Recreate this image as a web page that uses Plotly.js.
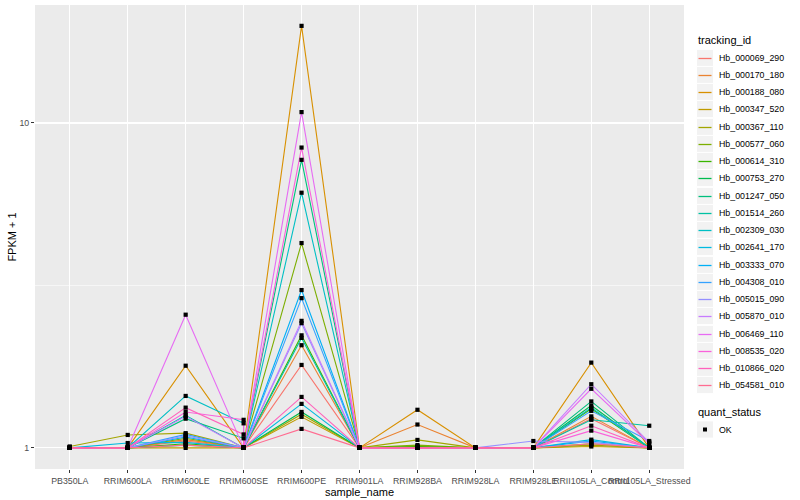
<!DOCTYPE html>
<html>
<head>
<meta charset="utf-8">
<script src="https://cdn.plot.ly/plotly-3.0.1.min.js"></script>
<style>html,body{margin:0;padding:0;background:#fff;}#chart{width:800px;height:500px;}</style>
</head>
<body>
<div id="chart"></div>
<script>
// ---- data ----
const categories = ["PB350LA","RRIM600LA","RRIM600LE","RRIM600SE","RRIM600PE","RRIM901LA","RRIM928BA","RRIM928LA","RRIM928LE","RRII105LA_Control","RRII105LA_Stressed"];
const trackingIds = ["Hb_000069_290","Hb_000170_180","Hb_000188_080","Hb_000347_520","Hb_000367_110","Hb_000577_060","Hb_000614_310","Hb_000753_270","Hb_001247_050","Hb_001514_260","Hb_002309_030","Hb_002641_170","Hb_003333_070","Hb_004308_010","Hb_005015_090","Hb_005870_010","Hb_006469_110","Hb_008535_020","Hb_010866_020","Hb_054581_010"];
// FPKM + 1 per sample (an inner pair = two readings for the same sample)
const hb000069_290 = [1, 1, 1.05, 1, 1.80, 1, 1.01, 1, 1, 1.23, 1];
const hb000170_180 = [1, 1, 1.06, 1, 2.07, 1, 1.18, 1, 1, 1.25, 1];
const hb000188_080 = [1, 1, 1.79, 1, 19.9, 1, 1.31, 1, 1, 1.83, 1];
const hb000347_520 = [1, 1, 1.00, 1, 1.246, 1, 1, 1, 1, 1.01, 1];
const hb000367_110 = [1.01, 1.096, 1.11, 1, 1.27, 1, 1.058, 1, 1, 1.02, 1];
const hb000577_060 = [1, 1, 1.07, 1, 4.27, 1, 1.02, 1, 1, 1.03, 1];
const hb000614_310 = [1, 1, 1.03, 1, 2.22, 1, 1.01, 1, 1, 1.32, 1];
const hb000753_270 = [1, 1, 1.02, 1, 1.29, 1, 1, 1, 1, 1.35, 1];
const hb001247_050 = [1, 1, 1.23, [1.07, 1], 7.7, 1, 1, 1, 1, 1.39, 1];
const hb001514_260 = [1, 1, 1.26, 1, 2.18, 1, 1, 1, 1, 1.22, 1.17];
const hb002309_030 = [1, 1, 1.445, [1.19, 1], 6.1, 1, 1, 1, 1, 1.33, 1];
const hb002641_170 = [1, 1.035, 1.04, 1, 1.366, 1, 1, 1, 1, 1.06, 1];
const hb003333_070 = [1, 1, 1.08, 1, 3.06, 1, 1, 1, 1, 1.05, 1];
const hb004308_010 = [1, 1, 1.10, 1, 2.89, 1, 1, 1, 1, 1.30, 1.05];
const hb005015_090 = [1, 1, 1.09, 1, 2.42, 1, 1, 1, 1.05, 1.04, 1];
const hb005870_010 = [1, 1, 1.25, 1, 2.46, 1, 1, 1, 1, 1.57, 1.04];
const hb006469_110 = [1, 1, 2.57, 1, 10.8, 1, 1, 1, 1, 1.52, 1.03];
const hb008535_020 = [1, 1, 1.29, [1.22, 1], 8.4, 1, 1, 1, 1, 1.13, 1];
const hb010866_020 = [1, 1, 1.33, [1.10, 1], 1.435, 1, 1, 1, 1, 1.17, 1];
const hb054581_010 = [1, 1, 1.02, 1, 1.144, 1, 1, 1, 1, 1.03, 1];
const quantStatus = ["OK"];

const seriesValues = [hb000069_290,hb000170_180,hb000188_080,hb000347_520,hb000367_110,hb000577_060,hb000614_310,hb000753_270,hb001247_050,hb001514_260,hb002309_030,hb002641_170,hb003333_070,hb004308_010,hb005015_090,hb005870_010,hb006469_110,hb008535_020,hb010866_020,hb054581_010];

// ggplot2 hue palette (20)
const palette = ["#F8766D","#EA8331","#D89000","#C09B00","#A3A500","#7CAE00","#39B600","#00BB4E","#00BF7D","#00C1A3","#00BFC4","#00BAE0","#00B0F6","#35A2FF","#9590FF","#C77CFF","#E76BF3","#FA62DB","#FF62BC","#FF6C91"];

const FONT = "Liberation Sans, Arial, Helvetica, sans-serif";

function flatten(vals) {
  const x = [], y = [];
  vals.forEach((v, i) => {
    const arr = Array.isArray(v) ? v : [v];
    arr.forEach(a => { x.push(categories[i]); y.push(a); });
  });
  return {x, y};
}

const traces = [];
const px = [], py = [];
seriesValues.forEach((vals, k) => {
  const f = flatten(vals);
  traces.push({type: "scatter", mode: "lines", name: trackingIds[k], x: f.x, y: f.y,
    line: {color: palette[k], width: 1.1}, showlegend: false, hoverinfo: "x+y+name"});
  f.x.forEach((xx, j) => { px.push(xx); py.push(f.y[j]); });
});
traces.push({type: "scatter", mode: "markers", name: quantStatus[0], x: px, y: py,
  marker: {color: "#000000", size: 4.2, symbol: "square"}, showlegend: false});

// ---- layout geometry (pixels) ----
const L = 35, R = 684, T = 5, B = 469;
const pxX = p => (p - L) / (R - L);
const pxY = p => (B - p) / (B - T);

const shapes = [], annotations = [];
// legend: tracking_id
annotations.push({xref: "paper", yref: "paper", x: pxX(696), y: pxY(40), xanchor: "left", yanchor: "middle",
  text: "tracking_id", showarrow: false, font: {family: FONT, size: 11, color: "#000"}});
const step = 17.25, y0 = 57.5;
trackingIds.forEach((id, i) => {
  const cy = Math.round(y0 + step * i);
  shapes.push({type: "rect", xref: "paper", yref: "paper", x0: pxX(696.5), x1: pxX(713.5),
    y0: pxY(cy - step / 2), y1: pxY(cy + step / 2), fillcolor: "#F2F2F2", line: {color: "#FFFFFF", width: 1}});
  shapes.push({type: "line", xref: "paper", yref: "paper", x0: pxX(698.5), x1: pxX(711.5),
    y0: pxY(cy + 0.5), y1: pxY(cy + 0.5), line: {color: palette[i], width: 1.3}});
  annotations.push({xref: "paper", yref: "paper", x: pxX(716.5), y: pxY(cy), xanchor: "left", yanchor: "middle",
    text: id, showarrow: false, font: {family: FONT, size: 8.8, color: "#000"}});
});
// legend: quant_status
annotations.push({xref: "paper", yref: "paper", x: pxX(696), y: pxY(412), xanchor: "left", yanchor: "middle",
  text: "quant_status", showarrow: false, font: {family: FONT, size: 11, color: "#000"}});
const okY = 429.5;
shapes.push({type: "rect", xref: "paper", yref: "paper", x0: pxX(696.5), x1: pxX(713.5),
  y0: pxY(okY - step / 2), y1: pxY(okY + step / 2), fillcolor: "#F2F2F2", line: {color: "#FFFFFF", width: 1}});
shapes.push({type: "rect", xref: "paper", yref: "paper", x0: pxX(703), x1: pxX(707),
  y0: pxY(okY - 2), y1: pxY(okY + 2), fillcolor: "#000", line: {width: 0}});
annotations.push({xref: "paper", yref: "paper", x: pxX(716.5), y: pxY(okY), xanchor: "left", yanchor: "middle",
  text: quantStatus[0], showarrow: false, font: {family: FONT, size: 8.8, color: "#000"}});

const layout = {
  width: 800, height: 500, autosize: false,
  margin: {l: L, r: 800 - R, t: T, b: 500 - B, pad: 0},
  paper_bgcolor: "#FFFFFF", plot_bgcolor: "#EBEBEB",
  font: {family: FONT},
  showlegend: false,
  xaxis: {type: "category", categoryorder: "array", categoryarray: categories,
    range: [-0.6, categories.length - 0.4],
    showgrid: true, gridcolor: "#FFFFFF", gridwidth: 1.1, zeroline: false, showline: false,
    ticks: "outside", ticklen: 3, tickwidth: 1, tickcolor: "#333333", tickangle: 0,
    tickfont: {family: FONT, size: 8.8, color: "#4D4D4D"},
    title: {text: "sample_name", font: {family: FONT, size: 11, color: "#000"}, standoff: 0}},
  yaxis: {type: "log", range: [Math.log10(0.861), Math.log10(23.07)],
    tickvals: [1, 10], ticktext: ["1", "10"],
    showgrid: true, gridcolor: "#FFFFFF", gridwidth: 1.1, zeroline: false, showline: false,
    ticks: "outside", ticklen: 3, tickwidth: 1, tickcolor: "#333333",
    tickfont: {family: FONT, size: 8.8, color: "#4D4D4D"},
    minor: {tickvals: [Math.sqrt(10)], showgrid: true, gridcolor: "#FFFFFF", gridwidth: 0.55, ticks: ""},
    title: {text: "FPKM + 1", font: {family: FONT, size: 11, color: "#000"}, standoff: 0}},
  shapes: shapes, annotations: annotations
};

Plotly.newPlot("chart", traces, layout, {staticPlot: true, displayModeBar: false});
</script>
</body>
</html>
